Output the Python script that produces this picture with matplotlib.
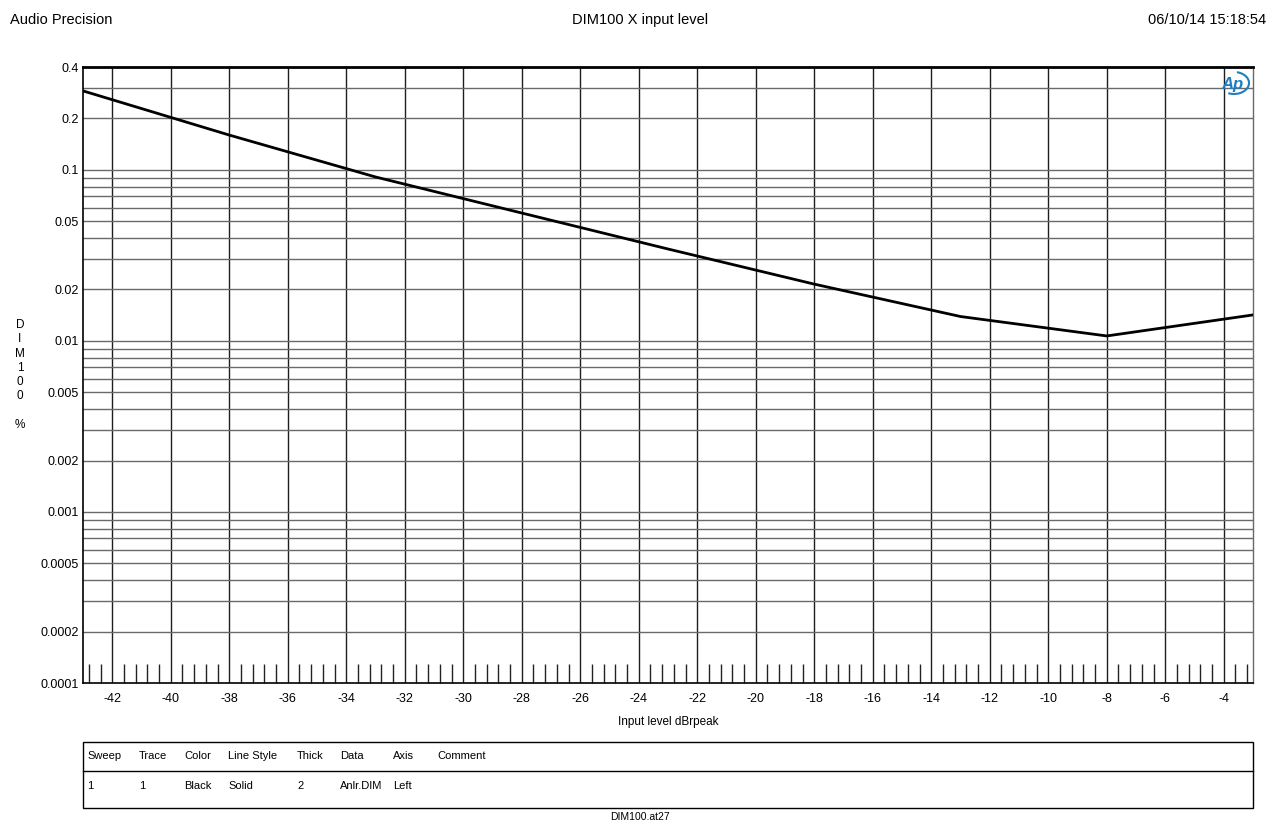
import matplotlib
matplotlib.use("Agg")
import matplotlib.pyplot as plt
import numpy as np
from matplotlib.lines import Line2D
from matplotlib.patches import Rectangle, Arc
from matplotlib.ticker import FixedLocator, NullFormatter

plt.rcParams["font.family"] = ["Liberation Sans", "DejaVu Sans"]

# sweep data
level_db = [-43, -38, -33, -28, -23, -18, -13, -8, -3]
dim_pct = [0.29, 0.160, 0.091, 0.056, 0.0345, 0.0215, 0.0139, 0.0107, 0.0142]

y_ticks = [0.4, 0.2, 0.1, 0.05, 0.02, 0.01, 0.005, 0.002, 0.001, 0.0005, 0.0002, 0.0001]
y_labels = ["0.4", "0.2", "0.1", "0.05", "0.02", "0.01", "0.005", "0.002",
            "0.001", "0.0005", "0.0002", "0.0001"]
x_ticks = list(range(-42, -3, 2))

table_cols = ["Sweep", "Trace", "Color", "Line Style", "Thick", "Data", "Axis", "Comment"]
table_row = ["1", "1", "Black", "Solid", "2", "Anlr.DIM", "Left", ""]
col_x = [87, 139, 184, 228, 297, 340, 393, 437]

W, H = 1276, 825
fig = plt.figure(figsize=(W / 100, H / 100), dpi=100)


def fx(px):
    return px / W


def fy(py):
    return 1 - py / H


left, right, top, bottom = 83, 1253, 67, 683
ax = fig.add_axes([fx(left), fy(bottom), fx(right - left), (bottom - top) / H])
ax.set_yscale("log")
ax.set_xlim(-43, -3)
ax.set_ylim(0.0001, 0.4)

# grid: vertical every 2 dB, horizontal at every 1..9 x decade
vgrid_c = "#1e1e1e"
hgrid_c = "#6a6a6a"
for x in x_ticks:
    ax.axvline(x, color=vgrid_c, lw=1.0, zorder=1)
for e in range(-4, 0):
    for k in range(1, 10):
        v = k * 10.0 ** e
        if 0.0001 < v < 0.4:
            ax.axhline(v, color=hgrid_c, lw=1.0, zorder=1)

ax.plot(level_db, dim_pct, color="black", lw=2, zorder=3)

ax.yaxis.set_major_locator(FixedLocator(y_ticks))
ax.set_yticklabels(y_labels)
ax.yaxis.set_minor_formatter(NullFormatter())
ax.yaxis.set_minor_locator(FixedLocator([]))
ax.set_xticks(x_ticks)
ax.set_xticklabels([str(x) for x in x_ticks])
minor_x = [v for v in np.arange(-42.8, -3.0, 0.4) if abs(v / 2 - round(v / 2)) > 0.01]
ax.xaxis.set_minor_locator(FixedLocator(minor_x))
ax.tick_params(axis="both", which="major", length=0, labelsize=9)
ax.tick_params(axis="x", which="major", pad=7)
ax.tick_params(axis="y", which="major", pad=3)
ax.tick_params(axis="x", which="minor", direction="in", length=14, width=1, color="#222222")
ax.tick_params(axis="y", which="minor", length=0)

ax.spines["top"].set_linewidth(2)
ax.spines["left"].set_linewidth(1.2)
ax.spines["bottom"].set_linewidth(1.2)
ax.spines["right"].set_color(hgrid_c)
ax.spines["right"].set_linewidth(1.0)

ax.set_xlabel("Input level dBrpeak", fontsize=8.5, labelpad=8)

# header
fig.text(fx(10), fy(20), "Audio Precision", fontsize=10.5, ha="left", va="center")
fig.text(fx(640), fy(20), "DIM100 X input level", fontsize=10.5, ha="center", va="center")
fig.text(fx(1266), fy(20), "06/10/14 15:18:54", fontsize=10.5, ha="right", va="center")

# stacked y label
fig.text(fx(20), fy(375), "D\nI\nM\n1\n0\n0\n\n%", fontsize=8.5, ha="center", va="center",
         linespacing=1.25)

# Ap logo
logo_c = "#1f7ec1"
fig.text(fx(1232), fy(84), "Ap", fontsize=12, style="italic", fontweight="bold",
         color=logo_c, ha="center", va="center")
fig.patches.append(Arc((fx(1234), fy(83)), fx(30), 22 / H, theta1=-110, theta2=80,
                       transform=fig.transFigure, color=logo_c, lw=1.5))

# legend table
fig.patches.append(Rectangle((fx(83), fy(808)), fx(1253 - 83), (808 - 742) / H,
                             transform=fig.transFigure, fill=False, ec="black", lw=1))
fig.lines.append(Line2D([fx(83), fx(1253)], [fy(771), fy(771)],
                        transform=fig.transFigure, color="black", lw=1))
for x, h, v in zip(col_x, table_cols, table_row):
    fig.text(fx(x), fy(756), h, fontsize=8, ha="left", va="center")
    fig.text(fx(x), fy(786), v, fontsize=8, ha="left", va="center")

fig.text(fx(640), fy(817), "DIM100.at27", fontsize=7.5, ha="center", va="center")

fig.savefig("out.png", dpi=100)
